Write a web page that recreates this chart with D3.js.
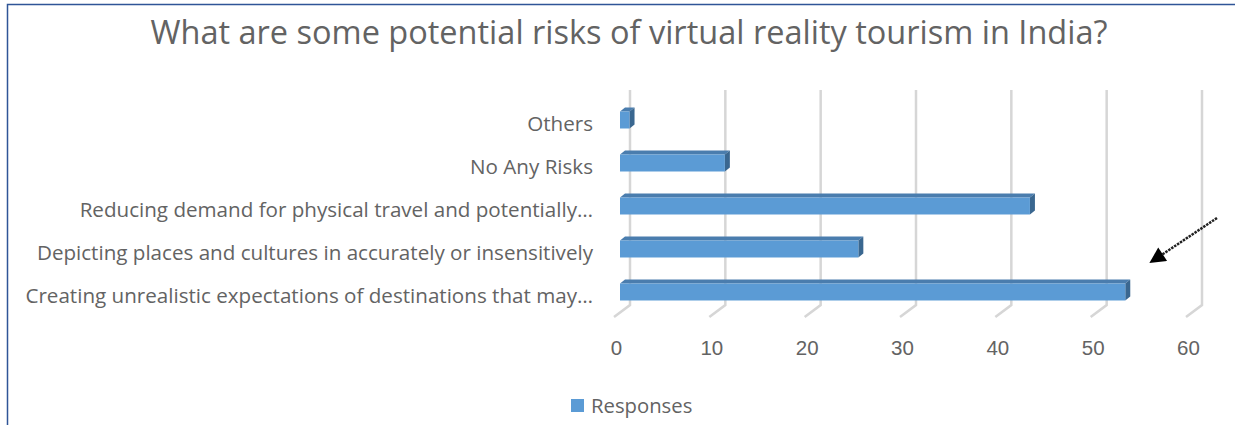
<!DOCTYPE html>
<html>
<head>
<meta charset="utf-8">
<script src="https://cdn.jsdelivr.net/npm/d3@7"></script>
<style>
  body { margin: 0; background: #fff; }
  svg { display: block; font-family: "Open Sans", "Noto Sans", sans-serif; }
  .lbl { fill: #636363; }
</style>
</head>
<body>
<svg id="chart" width="1235" height="425"></svg>
<script>
// data, top to bottom as shown
var categories = [
  "Others",
  "No Any Risks",
  "Reducing demand for physical travel and potentially\u2026",
  "Depicting places and cultures in accurately or insensitively",
  "Creating unrealistic expectations of destinations that may\u2026"
];
var responses = [1, 11, 43, 25, 53];
var tickValues = [0, 10, 20, 30, 40, 50, 60];
var seriesName = "Responses";
var title = "What are some potential risks of virtual reality tourism in India?";

var svg = d3.select("#chart");
var depth = {x: 5, y: -4};      // bar top/side depth
var floor = {x: -16, y: 12};    // gridline floor offset

var xBack = d3.scaleLinear().domain([0, 60]).range([630, 1202]);
var xFront = d3.scaleLinear().domain([0, 60]).range([620, 1192]);
var xTick = d3.scaleLinear().domain([0, 60]).range([616, 1188]);
var y = d3.scaleBand().domain(categories).range([85.5, 326.5])
    .paddingInner(0.605).paddingOuter(0.605);

// frame
svg.append("rect")
    .attr("x", 7.5).attr("y", 4.5)
    .attr("width", 1240).attr("height", 440)
    .attr("fill", "none")
    .attr("stroke", "#2F5597")
    .attr("stroke-width", 1.5);

// title
svg.append("text")
    .attr("class", "lbl")
    .attr("x", 629).attr("y", 44)
    .attr("text-anchor", "middle")
    .attr("font-size", "32.5px")
    .text(title);

// gridlines (back wall + floor)
var grid = svg.append("g");
tickValues.forEach(function(t) {
    var gx = xBack(t);
    grid.append("path")
        .attr("d", "M" + gx + ",90 L" + gx + ",305 L" + (gx + floor.x) + "," + (305 + floor.y))
        .attr("fill", "none")
        .attr("stroke", "#D6D6D6")
        .attr("stroke-width", 2.5);
});

// bars
var bars = svg.append("g").selectAll("g")
    .data(categories)
    .enter().append("g");

bars.each(function(c, i) {
    var g = d3.select(this);
    var x0 = xFront(0), x1 = xFront(responses[i]);
    var y0 = y(c), h = y.bandwidth();
    // top face
    g.append("path")
        .attr("d", "M" + x0 + "," + y0 + " L" + (x0 + depth.x) + "," + (y0 + depth.y) +
            " L" + (x1 + depth.x) + "," + (y0 + depth.y) + " L" + x1 + "," + y0 + "Z")
        .attr("fill", "#4A7DAE");
    // side face
    g.append("path")
        .attr("d", "M" + x1 + "," + y0 + " L" + (x1 + depth.x) + "," + (y0 + depth.y) +
            " L" + (x1 + depth.x) + "," + (y0 + h + depth.y) + " L" + x1 + "," + (y0 + h) + "Z")
        .attr("fill", "#3A6790");
    // front face
    g.append("rect")
        .attr("x", x0).attr("y", y0)
        .attr("width", x1 - x0).attr("height", h)
        .attr("fill", "#5B9BD5");
});

// category labels
svg.append("g").selectAll("text")
    .data(categories)
    .enter().append("text")
    .attr("class", "lbl")
    .attr("x", 593)
    .attr("y", function(d) { return y(d) + y.bandwidth() / 2 + 4; })
    .attr("dy", "0.35em")
    .attr("text-anchor", "end")
    .attr("font-size", "20.6px")
    .text(function(d) { return d; });

// x axis labels
var xAxis = d3.axisBottom(xTick).tickValues(tickValues).tickSize(0).tickPadding(0);
var ax = svg.append("g")
    .attr("transform", "translate(0,340)")
    .call(xAxis);
ax.select(".domain").remove();
ax.selectAll("text")
    .attr("class", "lbl")
    .attr("font-family", "inherit")
    .attr("font-size", "20.5px");

// annotation arrow
var defs = svg.append("defs");
defs.append("marker")
    .attr("id", "head")
    .attr("viewBox", "0 0 10 10")
    .attr("refX", 2).attr("refY", 5)
    .attr("orient", "auto")
    .attr("markerUnits", "userSpaceOnUse")
    .attr("markerWidth", 18).attr("markerHeight", 16)
    .append("path")
    .attr("d", "M0,0 L10,5 L0,10Z")
    .attr("fill", "#000");
svg.append("line")
    .attr("x1", 1217).attr("y1", 218)
    .attr("x2", 1160).attr("y2", 256)
    .attr("stroke", "#222")
    .attr("stroke-width", 2.5)
    .attr("stroke-dasharray", "2.5,1")
    .attr("marker-end", "url(#head)");

// legend
var leg = svg.append("g").attr("transform", "translate(571,399)");
leg.append("rect").attr("width", 13).attr("height", 13).attr("fill", "#5B9BD5");
leg.append("text")
    .attr("class", "lbl")
    .attr("x", 20).attr("y", 7)
    .attr("dy", "0.35em")
    .attr("font-size", "20.3px")
    .text(seriesName);
</script>
</body>
</html>
